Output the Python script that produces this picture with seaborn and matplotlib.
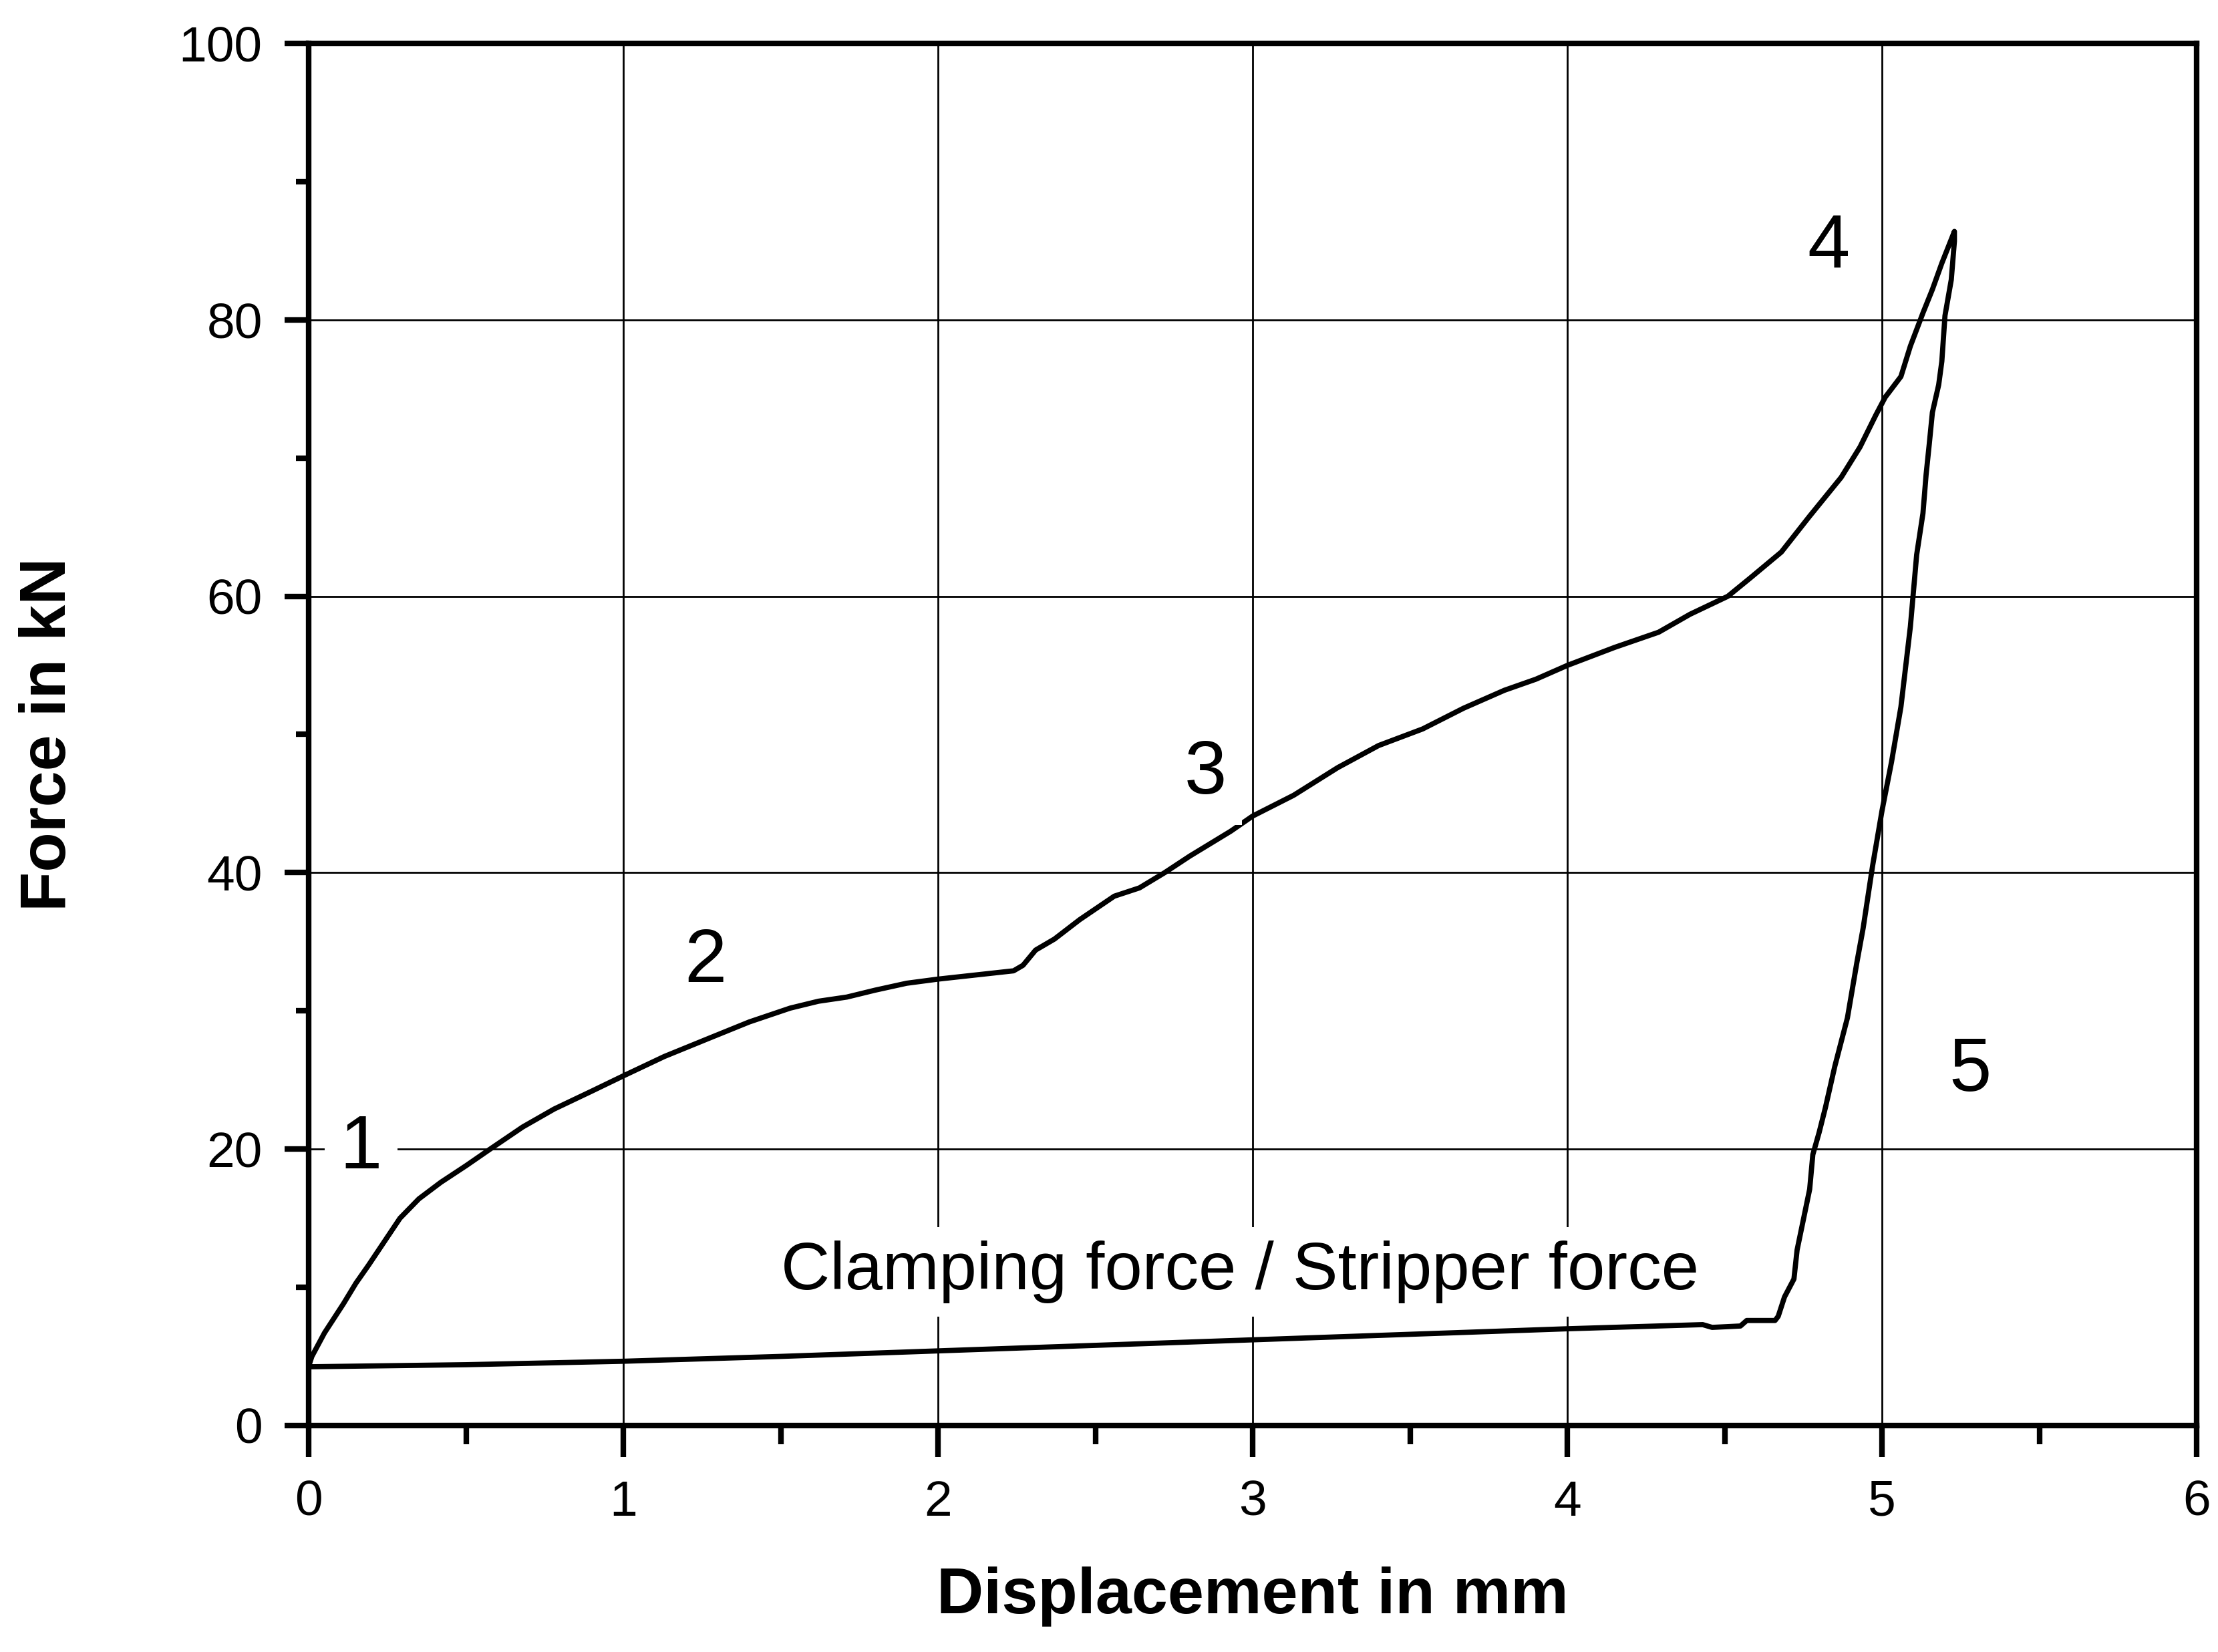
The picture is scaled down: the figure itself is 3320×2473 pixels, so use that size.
import numpy as np
import pandas as pd
import matplotlib
matplotlib.use("Agg")
import matplotlib.pyplot as plt
from matplotlib.ticker import MultipleLocator
import seaborn as sns

# --- dados (deslocamento em mm, forca em kN) ---
# trecho de carga (corte), do inicio ate o pico
disp_carga = [0.00, 0.01, 0.05, 0.11, 0.15, 0.19, 0.24, 0.29, 0.35, 0.42, 0.50, 0.57,
              0.68, 0.78, 0.90, 1.00, 1.13, 1.27, 1.40, 1.53, 1.62, 1.71, 1.80, 1.90,
              2.00, 2.12, 2.24, 2.27, 2.31, 2.37, 2.45, 2.56, 2.64, 2.72, 2.80, 2.93,
              3.00, 3.13, 3.27, 3.40, 3.54, 3.67, 3.80, 3.90, 4.00, 4.15, 4.29, 4.39,
              4.51, 4.58, 4.68, 4.77, 4.87, 4.93, 4.98, 5.01, 5.06, 5.09, 5.13, 5.16,
              5.19, 5.23]
forca_carga = [4.3, 5.0, 6.7, 8.8, 10.3, 11.6, 13.3, 15.0, 16.4, 17.6, 18.8, 19.9,
               21.6, 22.9, 24.2, 25.3, 26.7, 28.0, 29.2, 30.2, 30.7, 31.0, 31.5, 32.0,
               32.3, 32.6, 32.9, 33.3, 34.4, 35.2, 36.6, 38.3, 38.9, 40.0, 41.2, 43.0,
               44.1, 45.6, 47.6, 49.2, 50.4, 51.9, 53.2, 54.0, 55.0, 56.3, 57.4, 58.7,
               60.0, 61.3, 63.2, 65.8, 68.6, 70.8, 73.1, 74.4, 75.9, 78.1, 80.5, 82.2,
               84.1, 86.4]

# trecho de descarga (retorno elastico)
disp_descarga = [5.23, 5.22, 5.20, 5.19, 5.18, 5.16, 5.15, 5.14, 5.13, 5.11, 5.10, 5.09,
                 5.06, 5.03, 5.00, 4.97, 4.94, 4.92, 4.89, 4.85, 4.82, 4.80, 4.78, 4.77,
                 4.75, 4.73, 4.72, 4.69, 4.67, 4.66, 4.57, 4.55, 4.46, 4.43]
forca_descarga = [85.7, 82.9, 80.3, 77.0, 75.3, 73.3, 71.0, 68.8, 66.0, 63.0, 60.4, 57.8,
                  52.0, 48.0, 44.5, 40.5, 36.0, 33.5, 29.5, 26.0, 23.0, 21.2, 19.6, 17.1,
                  14.9, 12.7, 10.6, 9.3, 7.9, 7.6, 7.6, 7.2, 7.1, 7.3]

# forca do prensa-chapas / extrator no retorno
disp_retorno = [4.00, 3.50, 3.00, 2.50, 2.00, 1.50, 1.00, 0.50, 0.00]
forca_retorno = [7.0, 6.6, 6.2, 5.8, 5.4, 5.0, 4.65, 4.4, 4.25]

# rotulos das fases
fase_labels = ["1", "2", "3", "4", "5"]
fase_x = [0.166, 1.26, 2.85, 4.83, 5.28]
fase_y = [18.6, 32.1, 45.7, 83.75, 24.2]

texto_clamping = "Clamping force / Stripper force"
clamping_x, clamping_y = 2.96, 9.86

x_ticks = [0, 1, 2, 3, 4, 5, 6]
y_ticks = [0, 20, 40, 60, 80, 100]

df = pd.DataFrame({
    "disp": disp_carga + disp_descarga + disp_retorno,
    "forca": forca_carga + forca_descarga + forca_retorno,
})

# --- estilo ---
sns.set_style("ticks")
plt.rcParams["font.family"] = ["Liberation Sans", "DejaVu Sans"]
plt.rcParams["text.color"] = "black"
plt.rcParams["axes.labelcolor"] = "black"
plt.rcParams["xtick.color"] = "black"
plt.rcParams["ytick.color"] = "black"

fig = plt.figure(figsize=(16.6, 12.365), dpi=200)
ax = fig.add_axes([0.1392, 0.1371, 0.8512, 0.8366])

sns.lineplot(data=df, x="disp", y="forca", sort=False, estimator=None,
             color="black", linewidth=2.8, ax=ax, zorder=3)

ax.set_xlim(0, 6)
ax.set_ylim(0, 100)
ax.set_xticks(x_ticks)
ax.set_yticks(y_ticks)
ax.xaxis.set_minor_locator(MultipleLocator(0.5))
ax.yaxis.set_minor_locator(MultipleLocator(10))

ax.grid(True, which="major", color="black", linewidth=1.0)
for sp in ax.spines.values():
    sp.set_visible(True)
    sp.set_linewidth(3.0)
    sp.set_color("black")

ax.tick_params(axis="x", which="major", direction="out", length=17, width=3,
               labelsize=27, pad=12, colors="black")
ax.tick_params(axis="x", which="minor", direction="out", length=10, width=3, colors="black")
ax.tick_params(axis="y", which="major", direction="out", length=13, width=3,
               labelsize=27, pad=12, colors="black")
ax.tick_params(axis="y", which="minor", direction="out", length=7, width=3, colors="black")

ax.set_xlabel("Displacement in mm", fontsize=35, fontweight="bold", labelpad=22, color="black")
ax.set_ylabel("Force in kN", fontsize=35, fontweight="bold", labelpad=54, color="black")

caixa = dict(facecolor="white", edgecolor="none", boxstyle="square,pad=0.2")
for lab, xx, yy in zip(fase_labels, fase_x, fase_y):
    ax.text(xx, yy, lab, fontsize=41, ha="center", va="baseline", color="black",
            bbox=caixa, zorder=4)
ax.text(clamping_x, clamping_y, texto_clamping, fontsize=36.5, ha="center",
        va="baseline", color="black", bbox=caixa, zorder=4)

fig.savefig("out.png", dpi=200, facecolor="white")
plt.close(fig)
